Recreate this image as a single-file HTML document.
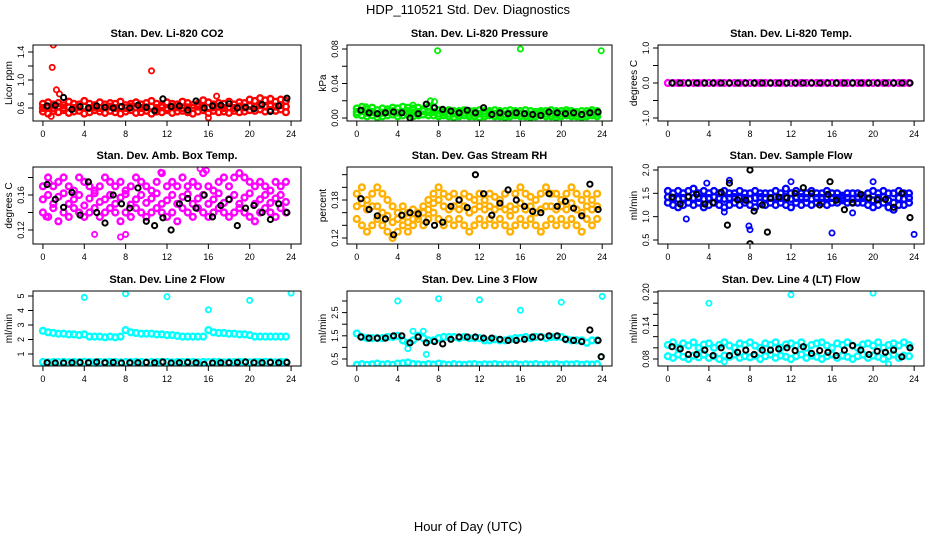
<!DOCTYPE html>
<html><head><meta charset="utf-8"><style>
body{margin:0;background:#fff;}
svg{display:block;font-family:"Liberation Sans",sans-serif;}
</style></head><body>
<svg id="c" width="936" height="540" viewBox="0 0 936 540">
<text x="468" y="14" text-anchor="middle" font-size="13">HDP_110521  Std. Dev. Diagnostics</text>
<text x="468" y="531" text-anchor="middle" font-size="13">Hour of Day (UTC)</text>
</svg>
<script>
// ---- data (hours derived: colored series at i*0.5, black at 0.4+i*0.8) ----
const xTicks=[0,4,8,12,16,20,24];
const titles=["Stan. Dev. Li-820 CO2","Stan. Dev. Li-820 Pressure","Stan. Dev. Li-820 Temp.","Stan. Dev. Amb. Box Temp.","Stan. Dev. Gas Stream RH","Stan. Dev. Sample Flow","Stan. Dev. Line 2 Flow","Stan. Dev. Line 3 Flow","Stan. Dev. Line 4 (LT) Flow"];
const yTitles=["Licor ppm","kPa","degrees C","degrees C","percent","ml/min","ml/min","ml/min","ml/min"];
const yTickVals=[[0.6,0.8,1.0,1.2,1.4],[0,0.02,0.04,0.06,0.08],[-1,-0.5,0,0.5,1],[0.12,0.14,0.16,0.18],[0.12,0.14,0.16,0.18,0.20,0.22],[0.5,1.0,1.5,2.0],[1,2,3,4,5],[0.5,1,1.5,2,2.5,3],[0.08,0.10,0.12,0.14,0.16,0.18,0.20]];
const yTickLabels=[["0.6","","1.0","","1.4"],["0.00","","0.04","","0.08"],["-1.0","","0.0","","1.0"],["0.12","","0.16",""],["0.12","","","0.18","",""],["0.5","1.0","1.5","2.0"],["1","2","3","4","5"],["0.5","","1.5","","2.5",""],["0.08","","","0.14","","","0.20"]];

const s1hi=[0.66,0.68,0.65,0.67,0.64,0.69,0.66,0.65,0.70,0.66,0.64,0.68,0.65,0.67,0.66,0.69,0.64,0.66,0.68,0.65,0.67,0.70,0.66,0.64,0.68,0.66,0.65,0.69,0.67,0.64,0.66,0.71,0.68,0.65,0.67,0.66,0.69,0.65,0.68,0.67,0.72,0.70,0.74,0.71,0.73,0.69,0.72,0.70];
const s1lo=[0.55,0.52,0.56,0.54,0.57,0.53,0.55,0.56,0.52,0.54,0.57,0.55,0.53,0.56,0.54,0.52,0.55,0.57,0.53,0.54,0.56,0.52,0.55,0.54,0.57,0.53,0.55,0.56,0.54,0.52,0.55,0.57,0.53,0.56,0.54,0.55,0.53,0.56,0.54,0.55,0.57,0.56,0.58,0.55,0.57,0.56,0.58,0.54];
const s1mid=[0.60,0.61,0.60,0.62,0.60,0.61,0.60,0.61,0.62,0.60,0.61,0.60,0.61,0.62,0.60,0.61,0.60,0.62,0.61,0.60,0.61,0.62,0.60,0.61,0.60,0.62,0.61,0.60,0.61,0.60,0.62,0.61,0.60,0.61,0.62,0.60,0.61,0.60,0.62,0.61,0.63,0.62,0.64,0.62,0.63,0.62,0.64,0.62];
const s1blk=[0.63,0.64,0.75,0.58,0.62,0.60,0.63,0.61,0.60,0.62,0.60,0.64,0.61,0.56,0.73,0.62,0.63,0.57,0.70,0.60,0.63,0.64,0.66,0.60,0.61,0.59,0.65,0.55,0.63,0.74];
const s1outH=[0.9,1.0,1.3,1.6,10.5,16.8,0.8,16.0];
const s1outV=[1.18,1.50,0.86,0.80,1.13,0.77,0.48,0.46];

const s2hi=[0.011,0.013,0.010,0.012,0.009,0.011,0.010,0.012,0.011,0.013,0.012,0.011,0.012,0.010,0.013,0.012,0.009,0.008,0.009,0.008,0.008,0.009,0.008,0.008,0.009,0.008,0.008,0.009,0.008,0.008,0.009,0.008,0.008,0.009,0.008,0.007,0.008,0.008,0.009,0.008,0.008,0.009,0.008,0.007,0.008,0.008,0.009,0.008];
const s2lo=[0.004,0.003,0.002,0.003,0.001,0.002,0.003,0.004,0.002,0.003,0.004,0.002,0.003,0.004,0.003,0.003,0.002,0.003,0.002,0.001,0.002,0.003,0.002,0.002,0.001,0.002,0.003,0.002,0.002,0.001,0.002,0.003,0.002,0.002,0.001,0.002,0.003,0.002,0.002,0.001,0.002,0.003,0.002,0.002,0.001,0.002,0.003,0.002];
const s2mid=[0.007,0.008,0.006,0.007,0.005,0.006,0.007,0.008,0.006,0.007,0.008,0.006,0.007,0.008,0.007,0.007,0.005,0.006,0.005,0.005,0.005,0.006,0.005,0.005,0.005,0.005,0.006,0.005,0.005,0.004,0.005,0.006,0.005,0.005,0.004,0.005,0.006,0.005,0.005,0.004,0.005,0.006,0.005,0.005,0.004,0.005,0.006,0.005];
const s2blk=[0.009,0.006,0.005,0.006,0.007,0.006,0.000,0.005,0.016,0.012,0.010,0.008,0.006,0.009,0.006,0.012,0.004,0.006,0.005,0.006,0.005,0.004,0.003,0.007,0.006,0.005,0.006,0.004,0.006,0.007];
const s2outH=[7.9,16.0,23.9,7.2,7.6,0.9,5.5];
const s2outV=[0.078,0.080,0.078,0.020,0.019,0.013,0.015];

const s3hi=[0,0,0,0,0,0,0,0,0,0,0,0,0,0,0,0,0,0,0,0,0,0,0,0,0,0,0,0,0,0,0,0,0,0,0,0,0,0,0,0,0,0,0,0,0,0,0,0];
const s3blk=[0,0,0,0,0,0,0,0,0,0,0,0,0,0,0,0,0,0,0,0,0,0,0,0,0,0,0,0,0,0];

const s4hi=[0.17,0.18,0.17,0.175,0.18,0.17,0.165,0.18,0.175,0.17,0.165,0.17,0.18,0.175,0.17,0.175,0.165,0.17,0.18,0.175,0.17,0.165,0.175,0.185,0.17,0.175,0.17,0.18,0.17,0.175,0.17,0.185,0.17,0.165,0.175,0.18,0.17,0.18,0.185,0.18,0.175,0.17,0.175,0.17,0.165,0.175,0.17,0.175];
const s4lo=[0.14,0.135,0.145,0.13,0.14,0.135,0.145,0.14,0.135,0.14,0.145,0.135,0.14,0.145,0.14,0.13,0.14,0.135,0.145,0.14,0.135,0.14,0.145,0.14,0.135,0.14,0.13,0.145,0.14,0.135,0.145,0.14,0.135,0.14,0.145,0.14,0.135,0.14,0.145,0.14,0.135,0.13,0.14,0.145,0.14,0.135,0.145,0.14];
const s4mid=[0.155,0.16,0.15,0.158,0.162,0.15,0.155,0.16,0.148,0.156,0.162,0.152,0.155,0.16,0.15,0.157,0.161,0.149,0.155,0.16,0.151,0.156,0.162,0.15,0.154,0.16,0.15,0.158,0.161,0.15,0.156,0.16,0.15,0.155,0.162,0.151,0.155,0.16,0.15,0.157,0.162,0.15,0.155,0.16,0.151,0.156,0.16,0.152];
const s4blk=[0.172,0.155,0.146,0.163,0.137,0.175,0.14,0.128,0.16,0.15,0.145,0.168,0.13,0.125,0.134,0.12,0.15,0.156,0.145,0.16,0.135,0.148,0.155,0.125,0.145,0.148,0.14,0.132,0.15,0.14];
const s4outH=[0.3,5.0,7.5,8.0,15.2,15.8,17.6,11.4,0.6];
const s4outV=[0.135,0.115,0.112,0.115,0.19,0.188,0.10,0.186,0.174];

const s5hi=[0.19,0.20,0.18,0.19,0.20,0.19,0.18,0.17,0.16,0.17,0.16,0.165,0.16,0.17,0.18,0.19,0.20,0.19,0.185,0.19,0.18,0.19,0.185,0.18,0.19,0.18,0.19,0.185,0.18,0.19,0.17,0.19,0.20,0.19,0.185,0.18,0.19,0.20,0.19,0.19,0.18,0.19,0.20,0.19,0.18,0.19,0.18,0.19];
const s5lo=[0.15,0.14,0.13,0.14,0.15,0.14,0.13,0.12,0.13,0.14,0.13,0.14,0.15,0.14,0.15,0.16,0.15,0.14,0.15,0.14,0.15,0.14,0.13,0.14,0.15,0.14,0.15,0.14,0.15,0.14,0.13,0.14,0.15,0.14,0.15,0.14,0.13,0.14,0.15,0.14,0.15,0.14,0.15,0.14,0.13,0.15,0.14,0.15];
const s5mid=[0.17,0.175,0.165,0.17,0.17,0.16,0.155,0.145,0.15,0.155,0.145,0.15,0.155,0.16,0.165,0.175,0.18,0.17,0.165,0.17,0.165,0.17,0.16,0.165,0.17,0.165,0.17,0.165,0.17,0.165,0.155,0.165,0.175,0.165,0.17,0.16,0.165,0.17,0.17,0.165,0.17,0.165,0.175,0.165,0.16,0.17,0.165,0.17];
const s5blk=[0.182,0.165,0.155,0.15,0.125,0.156,0.16,0.158,0.145,0.14,0.145,0.17,0.18,0.168,0.22,0.19,0.156,0.175,0.196,0.18,0.17,0.162,0.16,0.19,0.17,0.178,0.167,0.155,0.205,0.165];

const s6hi=[1.55,1.5,1.55,1.5,1.55,1.6,1.5,1.55,1.5,1.55,1.5,1.55,1.5,1.5,1.55,1.5,1.5,1.55,1.5,1.5,1.5,1.55,1.5,1.6,1.5,1.55,1.5,1.5,1.55,1.5,1.5,1.55,1.5,1.5,1.45,1.5,1.5,1.5,1.45,1.5,1.55,1.5,1.55,1.5,1.5,1.55,1.5,1.5];
const s6lo=[1.3,1.25,1.2,1.25,1.3,1.25,1.3,1.2,1.25,1.3,1.25,1.2,1.25,1.3,1.25,1.3,1.25,1.2,1.3,1.25,1.3,1.25,1.3,1.25,1.2,1.3,1.25,1.3,1.25,1.3,1.3,1.25,1.3,1.3,1.35,1.3,1.3,1.3,1.3,1.25,1.2,1.25,1.3,1.2,1.15,1.25,1.25,1.3];
const s6mid=[1.42,1.4,1.38,1.4,1.42,1.4,1.4,1.38,1.4,1.42,1.4,1.38,1.4,1.42,1.4,1.4,1.38,1.4,1.42,1.4,1.4,1.42,1.4,1.42,1.38,1.4,1.42,1.4,1.38,1.4,1.4,1.42,1.4,1.4,1.4,1.4,1.38,1.4,1.4,1.38,1.35,1.4,1.42,1.35,1.3,1.4,1.38,1.4];
const s6blk=[1.42,1.27,1.43,1.48,1.27,1.30,1.52,1.72,1.36,1.35,1.12,1.25,1.40,1.42,1.40,1.50,1.62,1.50,1.25,1.48,1.35,1.15,1.30,1.48,1.40,1.36,1.37,1.20,1.50,0.98];
const s6outH=[1.8,3.8,5.5,7.9,8.0,16.0,24.0,20.0,12.0,6.0,18.0];
const s6outV=[0.95,1.72,1.10,0.80,0.72,0.65,0.62,1.75,1.75,1.78,1.08];
const s6bOutH=[8.0,8.0,9.7,5.8,15.8];
const s6bOutV=[0.42,2.00,0.67,0.82,1.75];

const s7hi=[2.6,2.5,2.45,2.4,2.4,2.35,2.35,2.3,2.35,2.2,2.2,2.2,2.15,2.2,2.15,2.2,2.65,2.5,2.45,2.4,2.4,2.4,2.35,2.35,2.3,2.3,2.25,2.2,2.2,2.2,2.2,2.2,2.65,2.5,2.45,2.45,2.4,2.4,2.35,2.35,2.3,2.2,2.2,2.2,2.2,2.2,2.2,2.2];
const s7lo=[0.45,0.42,0.45,0.44,0.46,0.43,0.45,0.44,0.46,0.45,0.43,0.45,0.44,0.46,0.45,0.43,0.45,0.44,0.46,0.45,0.43,0.45,0.44,0.46,0.45,0.43,0.45,0.44,0.46,0.45,0.43,0.45,0.44,0.46,0.45,0.43,0.45,0.44,0.46,0.45,0.43,0.45,0.44,0.46,0.45,0.43,0.45,0.44];
const s7blk=[0.4,0.38,0.38,0.4,0.42,0.4,0.45,0.4,0.42,0.38,0.4,0.4,0.42,0.4,0.45,0.38,0.4,0.42,0.4,0.28,0.38,0.4,0.4,0.42,0.45,0.4,0.4,0.42,0.4,0.42];
const s7outH=[4,8,12,16,20,24];
const s7outV=[4.9,5.15,4.95,4.05,4.7,5.2];

const s8hi=[1.6,1.45,1.4,1.4,1.4,1.4,1.45,1.45,1.5,1.3,1.2,1.3,1.5,1.4,1.3,1.3,1.4,1.45,1.45,1.45,1.4,1.45,1.4,1.4,1.4,1.3,1.3,1.35,1.3,1.3,1.35,1.4,1.4,1.45,1.4,1.45,1.45,1.4,1.45,1.45,1.45,1.35,1.3,1.3,1.3,1.2,1.3,1.3];
const s8lo=[0.25,0.28,0.25,0.27,0.3,0.26,0.28,0.25,0.3,0.32,0.35,0.28,0.27,0.25,0.28,0.26,0.3,0.27,0.25,0.28,0.26,0.25,0.27,0.28,0.25,0.27,0.26,0.28,0.25,0.27,0.26,0.28,0.25,0.27,0.26,0.28,0.25,0.27,0.26,0.28,0.25,0.27,0.26,0.28,0.25,0.27,0.26,0.28];
const s8blk=[1.45,1.4,1.4,1.4,1.5,1.5,1.2,1.45,1.2,1.25,1.15,1.35,1.45,1.45,1.45,1.4,1.4,1.35,1.3,1.3,1.35,1.45,1.45,1.5,1.5,1.35,1.3,1.25,1.75,1.3];
const s8outH=[4,8,12,16,20,24,6.5,5.0,6.8,5.5,23.9];
const s8outV=[3.0,3.1,3.05,2.6,2.95,3.2,1.7,0.95,0.7,1.7,0.6];

const s9hi=[0.105,0.11,0.1,0.108,0.104,0.11,0.1,0.106,0.108,0.1,0.105,0.11,0.104,0.1,0.108,0.105,0.11,0.104,0.1,0.108,0.105,0.11,0.1,0.106,0.108,0.104,0.11,0.1,0.105,0.108,0.11,0.104,0.1,0.108,0.105,0.11,0.104,0.1,0.106,0.108,0.104,0.11,0.1,0.105,0.108,0.104,0.11,0.105];
const s9lo=[0.085,0.082,0.088,0.084,0.08,0.086,0.083,0.088,0.082,0.085,0.08,0.086,0.084,0.088,0.082,0.085,0.083,0.086,0.08,0.085,0.088,0.082,0.086,0.084,0.08,0.085,0.088,0.082,0.086,0.084,0.08,0.085,0.088,0.082,0.086,0.084,0.08,0.085,0.088,0.082,0.086,0.084,0.08,0.085,0.088,0.082,0.086,0.085];
const s9blk=[0.102,0.098,0.088,0.088,0.096,0.086,0.1,0.086,0.092,0.096,0.088,0.096,0.096,0.098,0.1,0.095,0.102,0.09,0.095,0.092,0.086,0.096,0.104,0.096,0.088,0.094,0.092,0.096,0.084,0.1];
const s9outH=[4,12,20,21.5,5.5];
const s9outV=[0.18,0.195,0.198,0.071,0.075];

// ---- layout ----
const colX=[[33,301],[347,612],[658,924]];
const rowY=[[45,121],[167,244],[291,366]];
const yRef=[[0.6,108,1.4,52],[0,118,0.08,49],[-1,118,1,48],[0.12,230,0.16,195],[0.12,238,0.18,200],[0.5,240,2.0,170],[1,354,5,296],[0.5,359,3.0,301],[0.08,359,0.20,292]];
const colors=["#ff0000","#00ee00","#ff00ff","#ff00ff","#ffb000","#0000ff","#00ffff","#00ffff","#00ffff"];
const series=[
 {c:[s1hi,s1lo,s1mid],b:s1blk,oh:s1outH,ov:s1outV},
 {c:[s2hi,s2lo,s2mid],b:s2blk,oh:s2outH,ov:s2outV},
 {c:[s3hi],b:s3blk},
 {c:[s4hi,s4lo,s4mid],b:s4blk,oh:s4outH,ov:s4outV},
 {c:[s5hi,s5lo,s5mid],b:s5blk},
 {c:[s6hi,s6lo,s6mid],b:s6blk,oh:s6outH,ov:s6outV,boh:s6bOutH,bov:s6bOutV},
 {c:[s7hi,s7lo],b:s7blk,oh:s7outH,ov:s7outV},
 {c:[s8hi,s8lo],b:s8blk,oh:s8outH,ov:s8outV,boh:[23.9],bov:[0.6]},
 {c:[s9hi,s9lo],b:s9blk,oh:s9outH,ov:s9outV}
];
const NS="http://www.w3.org/2000/svg";
const svg=document.getElementById('c');
function mk(tag,attrs,parent){const e=document.createElementNS(NS,tag);for(const k in attrs)e.setAttribute(k,attrs[k]);(parent||svg).appendChild(e);return e;}
function circ(g,x,y,col,r,w){const e=mk('circle',{cx:x.toFixed(1),cy:y.toFixed(1),r:r,fill:'none',stroke:col,'stroke-width':w},g);

}
for(let p=0;p<9;p++){
 const [x0,x1]=colX[p%3],[y0,y1]=rowY[Math.floor(p/3)];
 const pw=(x1-x0)/25.92;
 const xs=h=>x0+(h+0.96)*pw;
 const r=yRef[p];const k=(r[3]-r[1])/(r[2]-r[0]);
 const ys=v=>r[1]+(v-r[0])*k;
 const g=mk('g',{});
 
 
 const t=mk('text',{x:(x0+x1)/2,y:y0-8,'text-anchor':'middle','font-size':11,'font-weight':'bold'},g);t.textContent=titles[p];
 
 
 const yt=mk('text',{x:0,y:0,'text-anchor':'middle','font-size':10,transform:`translate(${x0-21},${(y0+y1)/2}) rotate(-90)`},g);yt.textContent=yTitles[p];
 
 
 const cid='cl'+p;const cp=mk('clipPath',{id:cid},g);mk('rect',{x:x0,y:y0,width:x1-x0,height:y1-y0},cp);
 const dg=mk('g',{'clip-path':`url(#${cid})`},g);
 const col=colors[p];
 series[p].c.forEach(arr=>arr.forEach((v,i)=>circ(dg,xs(i*0.5),ys(v),col,2.9,2.4)));
 if(series[p].oh)series[p].oh.forEach((h,i)=>circ(dg,xs(h),ys(series[p].ov[i]),col,2.6,1.8));
 series[p].b.forEach((v,i)=>circ(dg,xs(0.4+i*0.8),ys(v),'#000',2.6,2));
 if(series[p].boh)series[p].boh.forEach((h,i)=>circ(dg,xs(h),ys(series[p].bov[i]),'#000',2.6,2));
 const bx=mk('rect',{x:x0,y:y0,width:x1-x0,height:y1-y0,fill:'none',stroke:'#000','stroke-width':1},g);
 
 
 mk('line',{x1:xs(0),x2:xs(24),y1:y1,y2:y1,stroke:'#000'},g);
 xTicks.forEach(h=>{mk('line',{x1:xs(h),x2:xs(h),y1:y1,y2:y1+5,stroke:'#000'},g);
  const tl=mk('text',{x:xs(h),y:y1+16,'text-anchor':'middle','font-size':9},g);tl.textContent=h;
  
  });
 const tv=yTickVals[p];
 mk('line',{x1:x0,x2:x0,y1:ys(tv[0]),y2:ys(tv[tv.length-1]),stroke:'#000'},g);
 tv.forEach((v,i)=>{const y=ys(v);mk('line',{x1:x0-5,x2:x0,y1:y,y2:y,stroke:'#000'},g);
  if(yTickLabels[p][i]){const l=mk('text',{x:0,y:0,'text-anchor':'middle','font-size':9,transform:`translate(${x0-9},${y}) rotate(-90)`},g);l.textContent=yTickLabels[p][i];
  
  }});
}
</script>
</body></html>
